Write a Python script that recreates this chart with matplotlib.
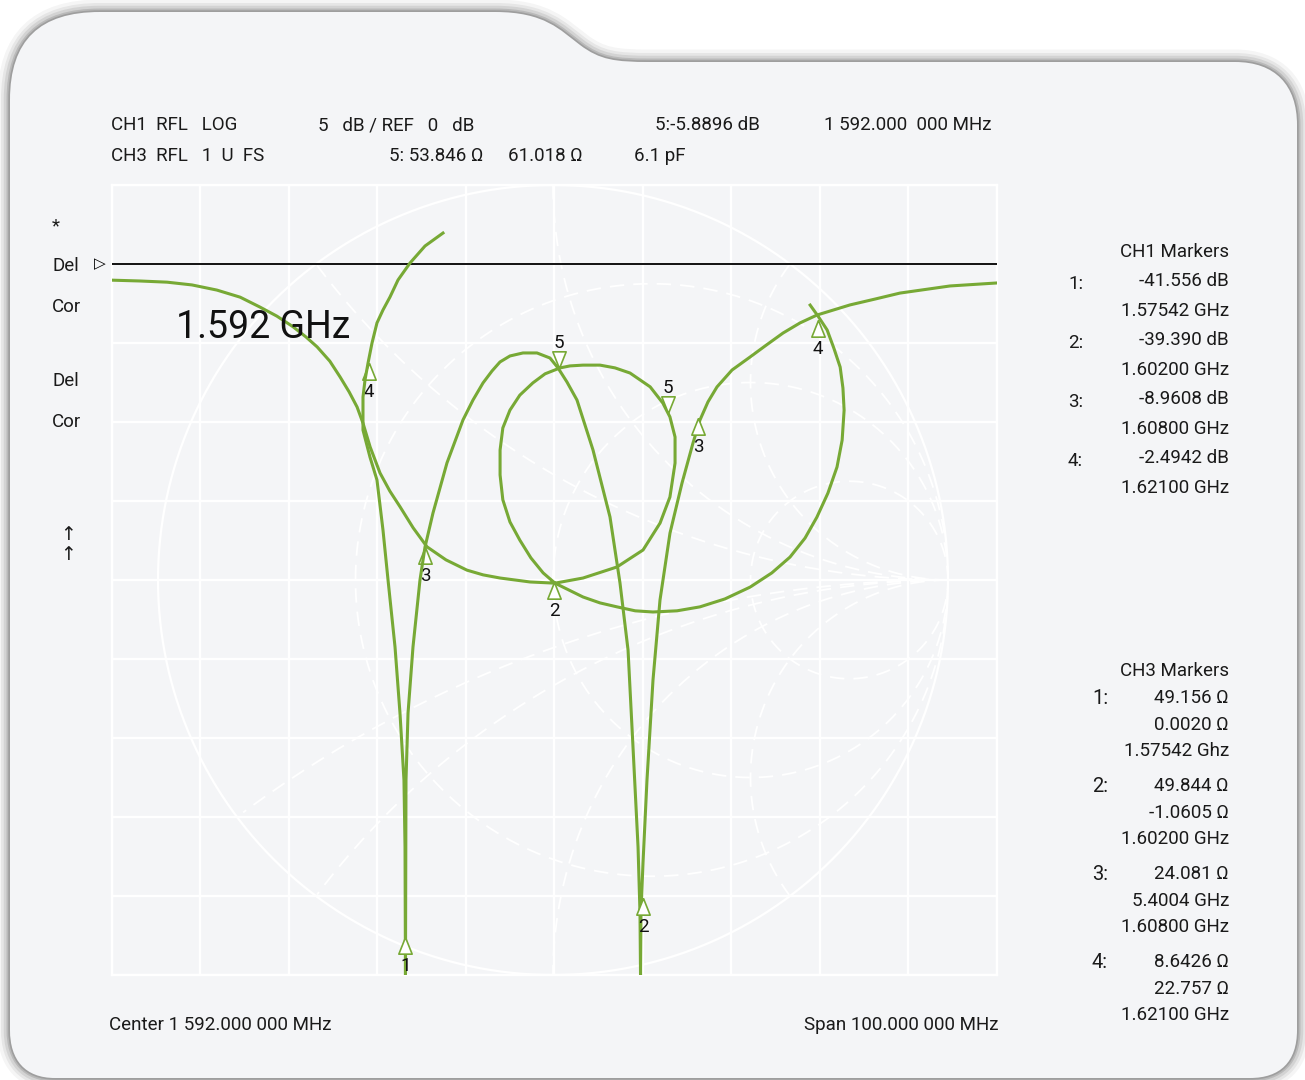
import numpy as np
import matplotlib.pyplot as plt
import matplotlib.transforms as mtransforms
from matplotlib.path import Path
from matplotlib.patches import PathPatch

plt.rcParams['font.family'] = ['Roboto', 'DejaVu Sans']

W, H = 1305, 1080
GREEN = '#77a935'
CARD = '#f4f5f7'

# ---- CH1 trace: log magnitude, frequency (MHz) and level (dB)
ch1_freq = [1579.40, 1577.37, 1575.67, 1574.32, 1573.41, 1572.62, 1571.94, 1571.38,
            1570.93, 1570.59, 1570.36, 1570.36, 1571.15,
            1571.94, 1572.62, 1573.19, 1573.98, 1574.54, 1574.99, 1575.11, 1575.16,
            1575.22, 1575.45, 1576.01, 1576.80, 1577.37, 1578.27, 1579.85, 1581.66,
            1582.79, 1583.92, 1584.94, 1585.84, 1586.97, 1588.44, 1590.02, 1591.49,
            1592.40, 1593.41, 1594.54, 1596.35,
            1598.27, 1599.40, 1600.31, 1600.87, 1601.44, 1601.66, 1601.72, 1601.77,
            1602.00, 1602.45, 1603.13, 1603.92, 1605.05, 1606.41, 1607.65, 1608.44,
            1609.34, 1610.36, 1612.06, 1614.09, 1615.79, 1617.82, 1619.74, 1621.66,
            1625.39, 1628.21, 1631.04, 1636.69, 1642.00]
ch1_db = [1.96, 1.14, 0.06, -1.01, -2.09, -2.91, -3.73, -5.00,
          -6.27, -7.34, -8.42, -10.51, -12.22,
          -13.67, -16.84, -20.00, -24.24, -28.42, -32.66, -36.90, -45.00,
          -32.66, -28.42, -24.24, -20.00, -17.91, -15.76, -12.59, -9.87,
          -8.61, -7.53, -6.77, -6.20, -5.82, -5.63, -5.63, -5.95,
          -6.58, -7.47, -8.61, -11.77,
          -16.01, -20.19, -24.43, -30.57, -36.90, -41.08, -45.00, -41.08,
          -37.91, -32.66, -26.33, -21.27, -17.03, -13.86, -11.33, -9.87,
          -8.73, -7.78, -6.71, -5.89, -5.19, -4.37, -3.73, -3.23,
          -2.59, -2.22, -1.84, -1.39, -1.20]

# ---- CH3 trace: Smith chart, reflection coefficient (real, imaginary)
ch3_re = [-1.114, -1.046, -0.977, -0.914, -0.851, -0.792, -0.742, -0.699, -0.658,
          -0.625, -0.597, -0.565, -0.539, -0.516, -0.496, -0.481, -0.463, -0.438,
          -0.413, -0.387, -0.354, -0.319, -0.271, -0.218, -0.177, -0.134, -0.058,
          0.005,
          0.076, 0.162, 0.228, 0.271, 0.296, 0.309, 0.309, 0.296, 0.278, 0.246,
          0.195, 0.157, 0.119, 0.076, 0.043, 0.018, -0.020, -0.051, -0.084, -0.109,
          -0.127, -0.134, -0.134, -0.127, -0.109, -0.084, -0.056, -0.025, 0.005,
          0.076, 0.119, 0.162, 0.208, 0.253, 0.314, 0.372, 0.435, 0.499, 0.554,
          0.600, 0.638, 0.668, 0.696, 0.719, 0.732, 0.737, 0.734, 0.727, 0.711,
          0.694, 0.671, 0.651]
ch3_im = [0.759, 0.757, 0.754, 0.747, 0.734, 0.716, 0.691, 0.668, 0.641,
          0.615, 0.590, 0.554, 0.514, 0.476, 0.438, 0.397, 0.337, 0.271,
          0.225, 0.185, 0.132, 0.084, 0.051, 0.025, 0.013, 0.005, -0.005,
          -0.008,
          0.005, 0.033, 0.076, 0.144, 0.210, 0.296, 0.362, 0.413, 0.448, 0.489,
          0.524, 0.537, 0.544, 0.544, 0.542, 0.537, 0.522, 0.499, 0.468, 0.430,
          0.385, 0.329, 0.266, 0.203, 0.147, 0.101, 0.056, 0.018, -0.008,
          -0.043, -0.058, -0.068, -0.078, -0.081, -0.078, -0.068, -0.048, -0.018, 0.018,
          0.058, 0.106, 0.159, 0.220, 0.286, 0.354, 0.430, 0.486, 0.539, 0.587,
          0.633, 0.668, 0.696]

# ---- markers
ch1_mk_label = ['1', '2', '3', '4', '5']
ch1_mk_freq = [1575.16, 1602.00, 1608.21, 1621.77, 1592.51]
ch1_mk_db = [-42.59, -40.13, -9.75, -3.54, -6.58]
ch1_mk_down = [False, False, False, False, True]

ch3_mk_label = ['2', '3', '4', '5']
ch3_mk_re = [0.003, -0.324, -0.466, 0.291]
ch3_mk_im = [-0.005, 0.084, 0.549, 0.423]
ch3_mk_down = [False, False, False, True]

ch1_readout = [('1:', '-41.556 dB', '1.57542 GHz'),
               ('2:', '-39.390 dB', '1.60200 GHz'),
               ('3:', '-8.9608 dB', '1.60800 GHz'),
               ('4:', '-2.4942 dB', '1.62100 GHz')]
ch3_readout = [('1:', '49.156 Ω', '0.0020 Ω', '1.57542 Ghz'),
               ('2:', '49.844 Ω', '-1.0605 Ω', '1.60200 GHz'),
               ('3:', '24.081 Ω', '5.4004 GHz', '1.60800 GHz'),
               ('4:', '8.6426 Ω', '22.757 Ω', '1.62100 GHz')]

center_mhz = 1592.0
span_mhz = 100.0
ref_db = 0.0
db_per_div = 5.0

# smith grid circles
r_circles = [1 / 3, 1.0, 3.0]
x_arcs = [0.5, 1.0, 2.0, -0.5, -1.0, -2.0, -1 / 3]

fig = plt.figure(figsize=(W / 100, H / 100), dpi=100, facecolor='white')

# ---- background card (pixel coordinates)
bg = fig.add_axes([0, 0, 1, 1])
bg.set_xlim(0, W)
bg.set_ylim(H, 0)
bg.axis('off')
verts = [(10, 1030), (10, 100),
         (10, 40), (40, 12), (100, 12),
         (495, 12),
         (545, 12), (560, 30), (580, 45),
         (600, 60), (615, 62), (650, 62),
         (1235, 62),
         (1275, 62), (1297, 85), (1297, 125),
         (1297, 1030),
         (1297, 1062), (1280, 1078), (1250, 1078),
         (55, 1078),
         (25, 1078), (10, 1060), (10, 1030),
         (10, 1030)]
codes = [Path.MOVETO, Path.LINETO,
         Path.CURVE4, Path.CURVE4, Path.CURVE4,
         Path.LINETO,
         Path.CURVE4, Path.CURVE4, Path.CURVE4,
         Path.CURVE4, Path.CURVE4, Path.CURVE4,
         Path.LINETO,
         Path.CURVE4, Path.CURVE4, Path.CURVE4,
         Path.LINETO,
         Path.CURVE4, Path.CURVE4, Path.CURVE4,
         Path.LINETO,
         Path.CURVE4, Path.CURVE4, Path.CURVE4,
         Path.CLOSEPOLY]
card = Path(verts, codes)
for lw, a in [(18, 0.04), (13, 0.06), (9, 0.08), (5, 0.12), (2.5, 0.14)]:
    bg.add_patch(PathPatch(card, facecolor='none', edgecolor='black', lw=lw, alpha=a,
                           joinstyle='round'))
bg.add_patch(PathPatch(card, facecolor=CARD, edgecolor='none'))

pos = [112 / W, 1 - 975 / H, 885 / W, 790 / H]
xlim = (center_mhz - span_mhz / 2, center_mhz + span_mhz / 2)
ylim = (ref_db - 9 * db_per_div, ref_db + db_per_div)

# ---- grid axes
ax = fig.add_axes(pos)
ax.set_facecolor('none')
ax.set_xlim(xlim)
ax.set_ylim(ylim)
ax.set_xticks(np.arange(xlim[0], xlim[1] + 1, span_mhz / 10))
ax.set_yticks(np.arange(ylim[0], ylim[1] + 1, db_per_div))
ax.grid(True, color='white', lw=1.7)
ax.tick_params(length=0, labelbottom=False, labelleft=False)
for s in ax.spines.values():
    s.set_color('white')
    s.set_linewidth(1.7)

# ---- smith axes
axs = fig.add_axes(pos)
axs.set_facecolor('none')
axs.set_xlim(-441 / 395, 444 / 395)
axs.set_ylim(-1, 1)
axs.axis('off')
t = np.linspace(0, 2 * np.pi, 721)
axs.plot(np.cos(t), np.sin(t), color='white', lw=1.6)
for r in r_circles:
    c, rad = r / (1 + r), 1 / (1 + r)
    axs.plot(c + rad * np.cos(t), rad * np.sin(t), color='white', lw=1.3,
             ls=(0, (8, 5)))
for xv in x_arcs:
    rad = 1 / abs(xv)
    px = 1 + rad * np.cos(t)
    py = 1 / xv + rad * np.sin(t)
    inside = px ** 2 + py ** 2 <= 1.0001
    px = np.where(inside, px, np.nan)
    py = np.where(inside, py, np.nan)
    axs.plot(px, py, color='white', lw=1.3, ls=(0, (8, 5)))
axs.plot(ch3_re, ch3_im, color=GREEN, lw=2.2, zorder=5, solid_joinstyle='round')

up_tri = [(0, 0), (-0.4, -1), (0.4, -1), (0, 0)]
down_tri = [(0, 0), (-0.4, 1), (0.4, 1), (0, 0)]


def draw_markers(axis, xs, ys, labels, downs):
    for x, y, lab, d in zip(xs, ys, labels, downs):
        axis.plot([x], [y], marker=down_tri if d else up_tri, ms=24, mfc='white',
                  mec=GREEN, mew=1.2, ls='none', zorder=6)
        axis.annotate(lab, (x, y), xytext=(0, 18 if d else -21),
                      textcoords='offset points', ha='center', va='center',
                      fontsize=13.5, color='#111111', zorder=7)


draw_markers(axs, ch3_mk_re, ch3_mk_im, ch3_mk_label, ch3_mk_down)

# ---- CH1 axes on top
axc = fig.add_axes(pos)
axc.set_facecolor('none')
axc.set_xlim(xlim)
axc.set_ylim(ylim)
axc.axis('off')
axc.axhline(ref_db, color='#111111', lw=1.4, zorder=3)
tr = mtransforms.blended_transform_factory(axc.transAxes, axc.transData)
axc.text(-0.0135, ref_db, '▷', transform=tr, ha='center', va='center', fontsize=11,
         family='DejaVu Sans')
axc.plot(ch1_freq, ch1_db, color=GREEN, lw=2.2, zorder=5, solid_joinstyle='round')
draw_markers(axc, ch1_mk_freq, ch1_mk_db, ch1_mk_label, ch1_mk_down)
axc.text(176, 338, '1.592 GHz', fontsize=27, transform=bg.transData, va='baseline',
         color='#111111')

# ---- texts
fs = 13.5
tc = '#1a1a1a'


def txt(x, y, s, ha='left', size=fs):
    bg.text(x, y, s, ha=ha, va='baseline', fontsize=size, color=tc)


txt(111, 130, 'CH1  RFL   LOG')
txt(318, 130, '5   dB / REF   0   dB')
txt(655, 130, '5:-5.8896 dB')
txt(824, 130, '1 592.000  000 MHz')
txt(111, 161, 'CH3  RFL   1  U  FS')
txt(389, 161, '5: 53.846 Ω')
txt(508, 161, '61.018 Ω')
txt(634, 161, '6.1 pF')

txt(52, 231, '*')
txt(52, 271, 'Del')
txt(52, 312, 'Cor')
txt(52, 386, 'Del')
txt(52, 427, 'Cor')
txt(68, 540, '↑', ha='center')
txt(68, 560, '↑', ha='center')

txt(109, 1030, 'Center 1 592.000 000 MHz')
txt(998, 1030, 'Span 100.000 000 MHz', ha='right')

txt(1229, 257, 'CH1 Markers', ha='right')
y = 286
for idx, val, freq in ch1_readout:
    txt(1068, y + 3, idx)
    txt(1229, y, val, ha='right')
    txt(1229, y + 30, freq, ha='right')
    y += 59

txt(1229, 676, 'CH3 Markers', ha='right')
y = 703
for idx, a, b, c in ch3_readout:
    txt(1092, y + 1, idx, size=14.5)
    txt(1229, y, a, ha='right')
    txt(1229, y + 26.5, b, ha='right')
    txt(1229, y + 53, c, ha='right')
    y += 88

fig.savefig('out.png', dpi=100, facecolor='white')
